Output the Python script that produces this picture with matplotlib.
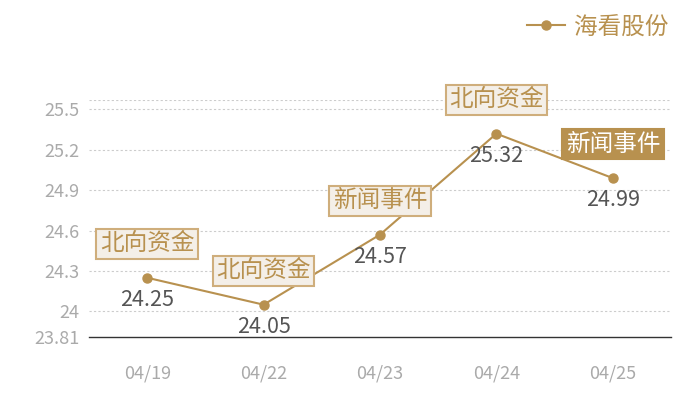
import matplotlib
matplotlib.use("Agg")
import matplotlib.pyplot as plt

plt.rcParams['font.family'] = ['Noto Sans CJK SC', 'DejaVu Sans']

dates = ["04/19", "04/22", "04/23", "04/24", "04/25"]
prices = [24.25, 24.05, 24.57, 25.32, 24.99]
events = ["北向资金", "北向资金", "新闻事件", "北向资金", "新闻事件"]
highlight = [False, False, False, False, True]
y_ticks = [23.81, 24, 24.3, 24.6, 24.9, 25.2, 25.5]
y_min, y_max = 23.81, 25.57

GOLD = "#b8914f"
EDGE = "#cfae7c"
FILL = "#f4efe8"

fig = plt.figure(figsize=(7, 4), dpi=100)
ax = fig.add_axes([89 / 700, 1 - 337 / 400, 582 / 700, 237 / 400])

x = list(range(len(dates)))
ax.plot(x, prices, color=GOLD, lw=1.5, marker="o", ms=6.5, label="海看股份")

ax.set_xlim(-0.5, len(dates) - 0.5)
ax.set_ylim(y_min, y_max)
ax.set_xticks(x)
ax.set_xticklabels(dates)
ax.set_yticks(y_ticks)
ax.set_yticklabels([f"{v:g}" for v in y_ticks])
ax.tick_params(length=0, colors="#aaaaaa", labelsize=13)
ax.tick_params(axis="x", pad=20)
ax.tick_params(axis="y", pad=7)

for v in y_ticks[1:] + [y_max]:
    ax.axhline(v, color="#cccccc", lw=0.8, ls=(0, (2, 2)), zorder=0)
for s in ["top", "right", "left"]:
    ax.spines[s].set_visible(False)
ax.spines["bottom"].set_color("#333333")
ax.spines["bottom"].set_linewidth(1)

for xi, p, ev, hl in zip(x, prices, events, highlight):
    ax.annotate(f"{p:.2f}", (xi, p), xytext=(0, -16), textcoords="offset points",
                ha="center", va="center", fontsize=15.5, color="#555555")
    box = dict(boxstyle="square,pad=0.15", fc=GOLD if hl else FILL,
               ec=GOLD if hl else EDGE, lw=1.5)
    ax.annotate(ev, (xi, p), xytext=(0, 24.5), textcoords="offset points",
                ha="center", va="center", fontsize=17,
                color="white" if hl else GOLD, bbox=box)

ax.legend(loc="upper right", bbox_to_anchor=(684 / 700, 1.0), bbox_transform=fig.transFigure,
          frameon=False, fontsize=17, labelcolor=GOLD, handlelength=1.6,
          handletextpad=0.4, borderpad=0.15)

fig.savefig("out.png", dpi=100)
